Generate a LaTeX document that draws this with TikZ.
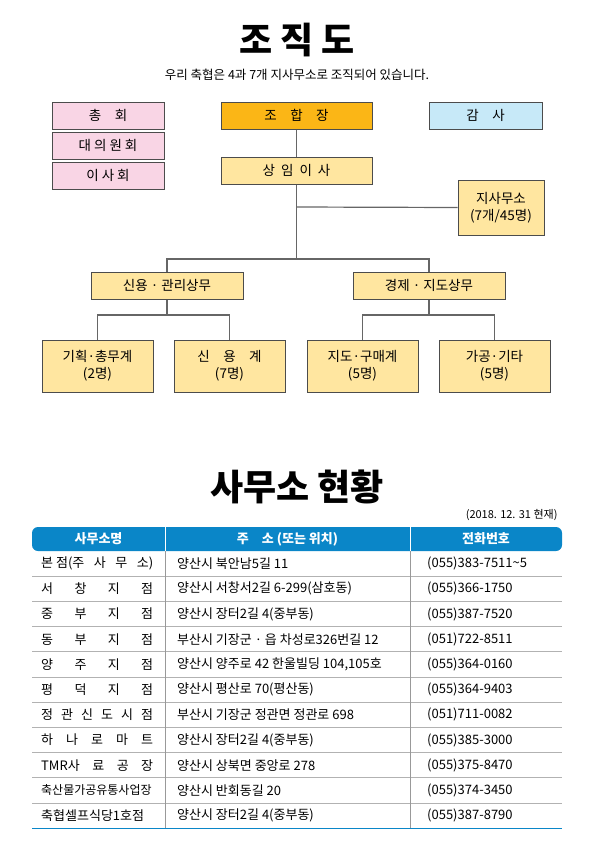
\documentclass[tikz,border=0pt]{standalone}
\usepackage{fontspec}
\setmainfont{Noto Sans CJK KR}
\usetikzlibrary{positioning}
\definecolor{pinkbox}{HTML}{F9D5E5}
\definecolor{headbox}{HTML}{FBB616}
\definecolor{bluebox}{HTML}{C7E9F8}
\definecolor{yelbox}{HTML}{FFE6A0}
\definecolor{tblue}{HTML}{0A86C8}
\tikzset{
  orgbox/.style={draw=black!70,line width=1pt,minimum height=27pt,font=\fontsize{13.5}{17}\selectfont,inner sep=0pt},
  wire/.style={draw=black!60,line width=1.2pt},
  cell/.style={anchor=west,font=\fontsize{13}{15}\selectfont,inner sep=0pt}
}
\newcommand{\spread}[1]{\makebox[112pt][s]{#1}}
\begin{document}
\begin{tikzpicture}[x=1pt,y=-1pt]
\useasboundingbox (0,0) rectangle (614,854);
\node (T1) at (297,40) {\fontsize{36}{40}\selectfont\bfseries 조 직 도};
\node (S1) at (297,75) {\fontsize{12.5}{15}\selectfont 우리 축협은 4과 7개 지사무소로 조직되어 있습니다.};
% left column
\node (A1)[orgbox,fill=pinkbox,minimum width=112pt] at (108,115.5) {총\quad 회};
\node (A2)[orgbox,fill=pinkbox,minimum width=112pt] at (108,145.5) {대 의 원 회};
\node (A3)[orgbox,fill=pinkbox,minimum width=112pt] at (108,175.5) {이 사 회};
\node (B1)[orgbox,fill=headbox,minimum width=151pt] at (296.5,115.5) {조\quad 합\quad 장};
\node (C1)[orgbox,fill=bluebox,minimum width=113pt] at (485.5,115.5) {감\quad 사};
\node (B2)[orgbox,fill=yelbox,minimum width=151pt] at (296.5,170.5) {상\ \ 임\ \ 이\ \ 사};
\node (D1)[orgbox,fill=yelbox,minimum width=86pt,minimum height=55pt,align=center] at (501,207.5) {지사무소\\(7개/45명)};
\node (E1)[orgbox,fill=yelbox,minimum width=152pt] at (167,285.5) {신용 · 관리상무};
\node (E2)[orgbox,fill=yelbox,minimum width=152pt] at (429,285.5) {경제 · 지도상무};
\node (F1)[orgbox,fill=yelbox,minimum width=111pt,minimum height=52pt,align=center] at (97.5,366) {기획·총무계\\(2명)};
\node (F2)[orgbox,fill=yelbox,minimum width=111pt,minimum height=52pt,align=center] at (229.5,366) {신\quad 용\quad 계\\(7명)};
\node (F3)[orgbox,fill=yelbox,minimum width=111pt,minimum height=52pt,align=center] at (362.5,366) {지도·구매계\\(5명)};
\node (F4)[orgbox,fill=yelbox,minimum width=111pt,minimum height=52pt,align=center] at (494.5,366) {가공·기타\\(5명)};
\draw[wire] (B1)--(B2);
\draw[wire] (B2.south)--(296.5,259) coordinate (J0);
\draw[wire] (296.5,207)--(D1.west);
\draw[wire] (E1.north)|-(J0)-|(E2.north);
\draw[wire] (E1.south)--(167,315) coordinate (J1);
\draw[wire] (F1.north)|-(J1)-|(F2.north);
\draw[wire] (E2.south)--(429,315) coordinate (J2);
\draw[wire] (F3.north)|-(J2)-|(F4.north);
% table
\node (T2) at (297,487) {\fontsize{36}{40}\selectfont\bfseries 사무소 현황};
\node (N1)[anchor=east,font=\fontsize{11}{13}\selectfont] at (561,515) {(2018. 12. 31 현재)};
\fill[tblue,rounded corners=6pt] (32,527) rectangle (562,551);
\draw[white,line width=0.8pt] (165,527)--(165,551) (410,527)--(410,551);
\node (H1)[text=white,font=\fontsize{13}{15}\selectfont\bfseries] at (98.5,539) {사무소명};
\node (H2)[text=white,font=\fontsize{13}{15}\selectfont\bfseries] at (287.5,539) {주\quad 소 (또는 위치)};
\node (H3)[text=white,font=\fontsize{13}{15}\selectfont\bfseries] at (486,539) {전화번호};
\foreach \i in {1,...,10} \draw[black!30,line width=0.8pt] (32,551+\i*25.2)--(562,551+\i*25.2);
\draw[tblue,line width=1pt] (32,828)--(562,828);
\draw[black!40,line width=0.8pt] (165,551)--(165,828) (410,551)--(410,828);
\foreach \n/\a/\b/\c in {
  0/{\spread{본 점(주\hfill 사\hfill 무\hfill 소)}}/{양산시 북안남5길 11}/{(055)383-7511\textasciitilde5},
  1/{\spread{서\hfill 창\hfill 지\hfill 점}}/{양산시 서창서2길 6-299(삼호동)}/{(055)366-1750},
  2/{\spread{중\hfill 부\hfill 지\hfill 점}}/{양산시 장터2길 4(중부동)}/{(055)387-7520},
  3/{\spread{동\hfill 부\hfill 지\hfill 점}}/{부산시 기장군 · 읍 차성로326번길 12}/{(051)722-8511},
  4/{\spread{양\hfill 주\hfill 지\hfill 점}}/{양산시 양주로 42 한울빌딩 104,105호}/{(055)364-0160},
  5/{\spread{평\hfill 덕\hfill 지\hfill 점}}/{양산시 평산로 70(평산동)}/{(055)364-9403},
  6/{\spread{정\hfill 관\hfill 신\hfill 도\hfill 시\hfill 점}}/{부산시 기장군 정관면 정관로 698}/{(051)711-0082},
  7/{\spread{하\hfill 나\hfill 로\hfill 마\hfill 트}}/{양산시 장터2길 4(중부동)}/{(055)385-3000},
  8/{\spread{TMR사\hfill 료\hfill 공\hfill 장}}/{양산시 상북면 중앙로 278}/{(055)375-8470},
  9/{\makebox[112pt][s]{\fontsize{12}{14}\selectfont 축산물가공유통사업장}}/{양산시 반회동길 20}/{(055)374-3450},
  10/{축협셀프식당1호점}/{양산시 장터2길 4(중부동)}/{(055)387-8790}} {
  \node (R\n a)[cell] at (41,563.6+\n*25.2) {\a};
  \node (R\n b)[cell] at (177,563.6+\n*25.2) {\b};
  \node (R\n c)[cell] at (427,563.6+\n*25.2) {\c};
}
\end{tikzpicture}
\end{document}
